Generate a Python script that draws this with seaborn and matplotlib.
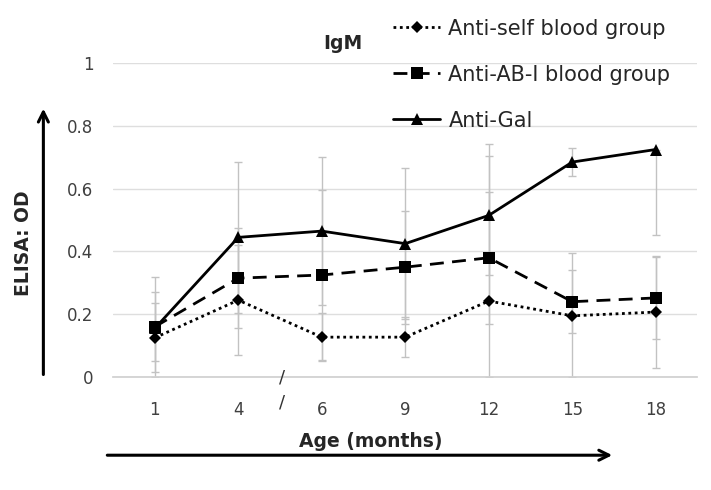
import numpy as np
import pandas as pd
import seaborn as sns
import matplotlib.pyplot as plt

months = ["1", "4", "6", "9", "12", "15", "18"]

anti_self = [0.125, 0.245, 0.127, 0.127, 0.242, 0.195, 0.207]
anti_ab = [0.16, 0.315, 0.325, 0.35, 0.38, 0.24, 0.252]
anti_gal = [0.155, 0.445, 0.465, 0.425, 0.515, 0.685, 0.725]

# error bars (lower, upper)
self_lo = [0.109, 0.175, 0.077, 0.063, 0.242, 0.195, 0.177]
self_hi = [0.111, 0.175, 0.077, 0.063, 0.50, 0.20, 0.177]
ab_lo = [0.11, 0.16, 0.27, 0.18, 0.21, 0.10, 0.13]
ab_hi = [0.11, 0.16, 0.27, 0.18, 0.21, 0.10, 0.133]
gal_lo = [0.155, 0.24, 0.235, 0.24, 0.19, 0.045, 0.273]
gal_hi = [0.163, 0.24, 0.235, 0.24, 0.19, 0.045, 0.0]

sns.set_theme(style="white")
plt.rcParams['font.family'] = ['DejaVu Sans']

fig = plt.figure(figsize=(7.11, 4.90), dpi=100)
ax = fig.add_axes([0.159, 0.2306, 0.822, 0.6404])

pos = np.arange(len(months))
series = [
    ("Anti-self blood group", anti_self, self_lo, self_hi, (0, (1, 1.3)), "D", 6.5),
    ("Anti-AB-I blood group", anti_ab, ab_lo, ab_hi, (0, (5, 3)), "s", 8),
    ("Anti-Gal", anti_gal, gal_lo, gal_hi, "-", "^", 8.5),
]

for name, vals, lo, hi, ls, mk, ms in series:
    ax.errorbar(pos, vals, yerr=[lo, hi], fmt="none", ecolor="#c2c2c2",
                elinewidth=1, capsize=3, capthick=1, zorder=1)

for name, vals, lo, hi, ls, mk, ms in series:
    df = pd.DataFrame({"x": pos, "y": vals})
    sns.lineplot(data=df, x="x", y="y", ax=ax, color="black", linestyle=ls,
                 linewidth=2, marker=mk, markersize=ms, markeredgewidth=0,
                 label=name, zorder=3)

ax.set_xlim(-0.5, len(months) - 0.5)
ax.set_ylim(0, 1)
ax.set_yticks([0, 0.2, 0.4, 0.6, 0.8, 1])
ax.set_yticklabels(["0", "0.2", "0.4", "0.6", "0.8", "1"], fontsize=12, color="#404040")
ax.set_xticks(pos)
ax.set_xticklabels(months, fontsize=12, color="#404040")
ax.set_xticks(np.arange(-0.5, len(months), 1), minor=True)
ax.tick_params(axis="x", which="major", length=0, pad=17)
ax.tick_params(axis="x", which="minor", length=5, color="#d0d0d0", width=1)
ax.tick_params(axis="y", length=0, pad=14)
ax.grid(axis="y", color="#dedede", linewidth=1)
for s in ["top", "right", "left"]:
    ax.spines[s].set_visible(False)
ax.spines["bottom"].set_color("#d0d0d0")
ax.set_xlabel("")
ax.set_ylabel("")

# axis break marks between 4 and 6
for yy in [0.0, -0.08]:
    ax.text(1.53, yy, "/", transform=ax.get_xaxis_transform(), ha="center",
            va="center", fontsize=13, color="#333333", clip_on=False)

fig.text(0.482, 0.912, "IgM", ha="center", va="center", fontsize=13.5,
         fontweight="bold")
fig.text(0.522, 0.098, "Age (months)", ha="center", va="center", fontsize=13.5,
         fontweight="bold")
fig.text(0.033, 0.504, "ELISA: OD", ha="center", va="center", rotation=90,
         fontsize=13.5, fontweight="bold")

fig.add_artist(plt.Annotation("", xy=(0.865, 0.071), xytext=(0.147, 0.071),
                              xycoords="figure fraction",
                              arrowprops=dict(arrowstyle="->", lw=2.2, color="black",
                                              mutation_scale=18)))
fig.add_artist(plt.Annotation("", xy=(0.061, 0.784), xytext=(0.061, 0.23),
                              xycoords="figure fraction",
                              arrowprops=dict(arrowstyle="->", lw=2.2, color="black",
                                              mutation_scale=18)))

leg = ax.legend(loc="upper left", bbox_to_anchor=(0.553, 0.962),
                bbox_transform=fig.transFigure, frameon=False, borderaxespad=0,
                borderpad=0, fontsize=15, handlelength=2.25, labelspacing=1.25,
                handletextpad=0.4)

fig.savefig("out.png", dpi=100)
